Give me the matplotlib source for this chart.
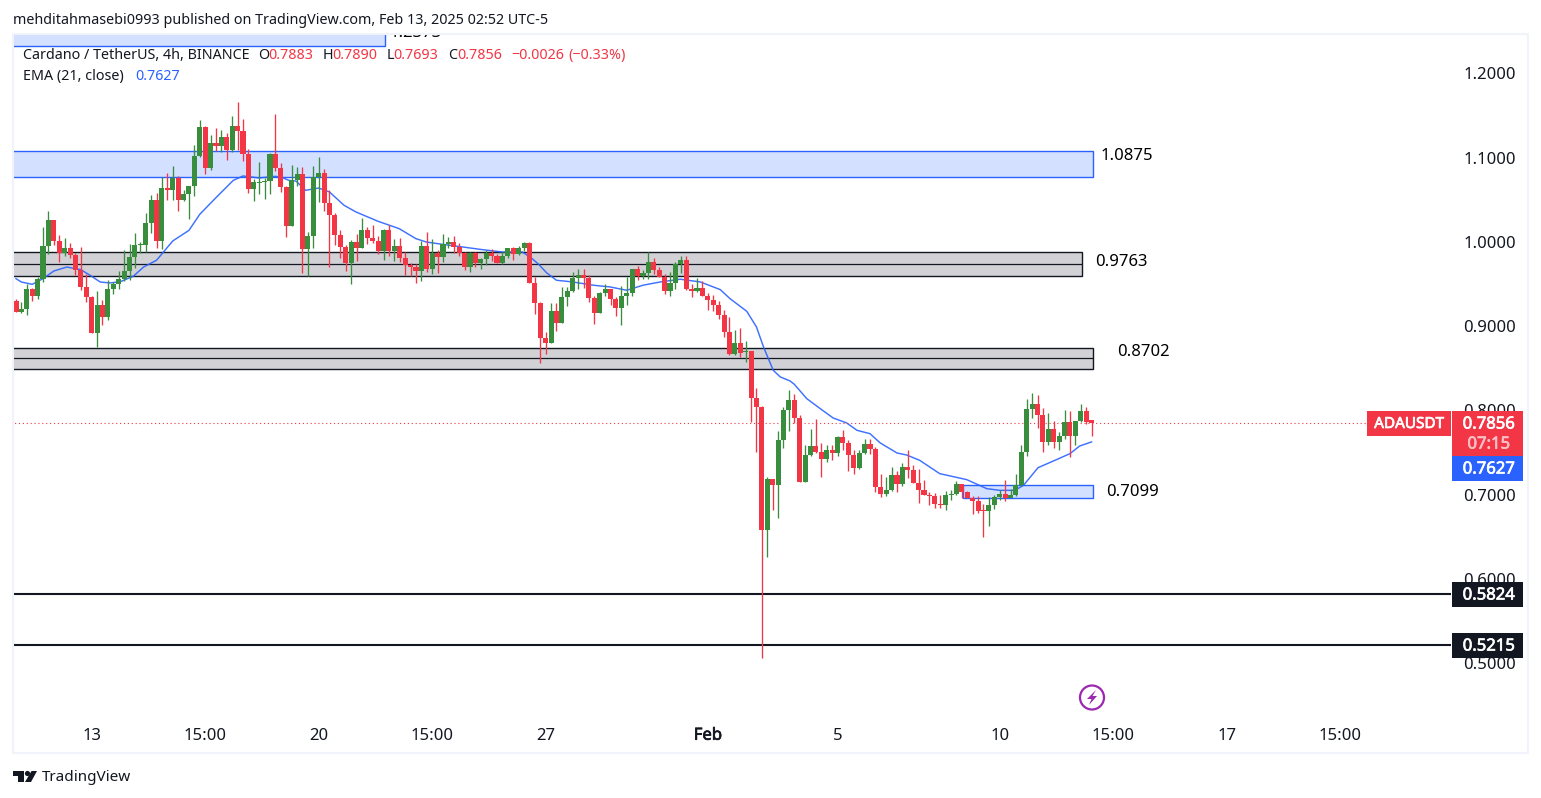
import matplotlib
matplotlib.use('Agg')
import matplotlib.pyplot as plt
import matplotlib.patheffects as pe
from matplotlib.patches import Rectangle, Circle, Polygon

plt.rcParams['font.family'] = ['Noto Sans', 'DejaVu Sans']

# Colors
up_color = '#388e3c'
down_color = '#f23645'
ema_color = '#2962ff'
blue_fill = '#d4e0ff'
gray_fill = '#d1d1d6'
dark_color = '#131722'
border_color = '#f0f3fa'
text_color = '#131722'

opens = [
    .9295, .9169, .9200, .9437, .9358, .9556, .9948, 1.0256, 1.0011, .9868,
    .9924, .9845, .9663, .9461, .9347, .8916, .9248, .9105, .9437, .9497,
    .9556, .9651, .9817, .9959, .9967, 1.0220, 1.0493, 1.0007, 1.0636, 1.0612,
    1.0754, 1.0493, 1.0564, 1.0659, 1.1015, 1.1359, 1.0873, 1.1169, 1.1134, 1.1240,
    1.1086, 1.1371, 1.1312, 1.1043, 1.0624, 1.0699, 1.0707, 1.0719, 1.1039, 1.0873,
    1.0647, 1.0185, 1.0730, 1.0802, .9912, 1.0066, 1.0774, 1.0813, 1.0458, 1.0315,
    1.0078, .9936, .9746, .9995, .9924, 1.0137, 1.0042, 1.0007, .9888, 1.0137,
    .9888, .9948, .9805, .9722, .9698, .9651, .9948, .9675, .9864, .9817,
    .9971, .9995, .9936, .9864, .9698, .9864, .9746, .9793, .9864, .9829,
    .9746, .9829, .9924, .9853, .9924, .9983, .9509, .9272, .8857, .8798,
    .9177, .9035, .9343, .9414, .9569, .9604, .9569, .9331, .9153, .9391,
    .9438, .9320, .9213, .9355, .9391, .9675, .9592, .9628, .9758, .9664,
    .9580, .9414, .9509, .9735, .9782, .9438, .9414, .9450, .9355, .9308,
    .9248, .9130, .8928, .8667, .8798, .8691, .8703, .8144, .8038, .6579,
    .7184, .7112, .7646, .8002, .8121, .7907, .7148, .7468, .7575, .7504,
    .7421, .7528, .7492, .7682, .7611, .7468, .7314, .7492, .7599, .7540,
    .7089, .7006, .7053, .7231, .7124, .7326, .7290, .7136, .7053, .6994,
    .6986, .6887, .6875, .6994, .7006, .7124, .7029, .6958, .6923, .6816,
    .6804, .6875, .6970, .7006, .6958, .6994, .7112, .7504, .8014, .8073,
    .7943, .7623, .7777, .7623, .7694, .7860, .7694, .7872, .7990, .7883,
]
closes = [
    .9169, .9200, .9437, .9358, .9556, .9948, 1.0256, 1.0011, .9868, .9924,
    .9845, .9663, .9461, .9347, .8916, .9248, .9105, .9437, .9497, .9556,
    .9651, .9817, .9959, .9967, 1.0220, 1.0493, 1.0007, 1.0636, 1.0612, 1.0754,
    1.0493, 1.0564, 1.0659, 1.1015, 1.1359, 1.0873, 1.1169, 1.1134, 1.1240, 1.1086,
    1.1371, 1.1312, 1.1043, 1.0624, 1.0707, 1.0707, 1.0719, 1.1039, 1.0873, 1.0647,
    1.0185, 1.0730, 1.0802, .9912, 1.0066, 1.0774, 1.0813, 1.0458, 1.0315, 1.0078,
    .9936, .9746, .9995, .9924, 1.0137, 1.0042, 1.0007, .9888, 1.0137, .9888,
    .9948, .9805, .9722, .9698, .9651, .9948, .9675, .9864, .9817, .9971,
    .9995, .9936, .9864, .9698, .9864, .9746, .9793, .9864, .9829, .9746,
    .9829, .9924, .9853, .9924, .9983, .9509, .9272, .8857, .8798, .9177,
    .9035, .9343, .9414, .9569, .9604, .9569, .9331, .9153, .9391, .9438,
    .9320, .9213, .9355, .9391, .9675, .9592, .9628, .9758, .9664, .9580,
    .9414, .9509, .9735, .9782, .9438, .9414, .9450, .9355, .9308, .9248,
    .9130, .8928, .8667, .8798, .8679, .8703, .8144, .8038, .6579, .7184,
    .7112, .7646, .8002, .8121, .7907, .7148, .7468, .7575, .7504, .7421,
    .7528, .7492, .7682, .7611, .7468, .7314, .7492, .7599, .7540, .7089,
    .7006, .7053, .7231, .7124, .7326, .7290, .7136, .7053, .6994, .6986,
    .6887, .6875, .6994, .7006, .7124, .7029, .6958, .6923, .6804, .6804,
    .6875, .6970, .7006, .6958, .6994, .7112, .7504, .8014, .8073, .7943,
    .7623, .7777, .7623, .7694, .7860, .7694, .7872, .7990, .7860, .7856,
]
highs = [
    .9319, .9283, .9497, .9449, .9584, 1.0173, 1.0363, 1.0264, 1.0078, 1.0042,
    .9983, .9864, .9936, .9615, .9358, .9414, .9307, .9544, .9524, .9651,
    .9900, .9971, 1.0102, .9999, 1.0339, 1.0552, 1.0576, 1.0770, 1.0813, 1.0896,
    1.0778, 1.0612, 1.0659, 1.1146, 1.1442, 1.1371, 1.1264, 1.1347, 1.1324, 1.1288,
    1.1490, 1.1656, 1.1454, 1.1098, 1.0742, 1.0944, 1.0754, 1.1051, 1.1513, 1.0932,
    1.0659, 1.0908, 1.0885, 1.0885, 1.0114, 1.0896, 1.1003, 1.0861, 1.0612, 1.0339,
    1.0137, .9959, 1.0019, 1.0090, 1.0280, 1.0173, 1.0197, 1.0066, 1.0149, 1.0197,
    1.0031, 1.0042, .9876, .9746, .9734, 1.0007, 1.0114, 1.0031, .9900, 1.0090,
    1.0054, 1.0066, .9983, .9876, .9876, .9876, .9805, .9900, .9912, .9853,
    .9876, .9924, .9936, .9948, .9995, .9995, .9580, .9284, .8928, .9272,
    .9272, .9462, .9462, .9640, .9675, .9675, .9604, .9355, .9403, .9497,
    .9438, .9343, .9474, .9588, .9675, .9711, .9664, .9877, .9806, .9699,
    .9616, .9640, .9758, .9830, .9830, .9497, .9569, .9533, .9391, .9367,
    .9296, .9189, .9106, .8952, .8976, .8821, .8703, .8264, .8050, .7207,
    .7184, .7753, .8038, .8239, .8192, .7943, .7587, .7777, .7895, .7611,
    .7587, .7587, .7694, .7765, .7646, .7528, .7528, .7658, .7658, .7563,
    .7243, .7207, .7326, .7279, .7373, .7528, .7350, .7302, .7172, .7029,
    .7018, .6994, .7041, .7053, .7160, .7124, .7041, .6982, .6982, .6887,
    .6970, .6994, .7053, .7172, .7065, .7243, .7587, .8133, .8204, .8180,
    .8026, .7967, .7872, .7741, .8002, .7990, .7872, .8073, .8038, .7890,
]
lows = [
    .9169, .9157, .9133, .9299, .9323, .9524, .9861, .9959, .9762, .9833,
    .9809, .9604, .9430, .9287, .8916, .8753, .9010, .9070, .9378, .9437,
    .9536, .9544, .9687, .9868, .9876, 1.0106, .9924, .9912, 1.0493, 1.0493,
    1.0363, 1.0481, 1.0268, 1.0541, 1.1003, 1.0802, 1.0849, 1.1074, 1.1067, 1.0968,
    1.1063, 1.1086, 1.0956, 1.0576, 1.0481, 1.0564, 1.0505, 1.0564, 1.0837, 1.0588,
    1.0054, 1.0185, 1.0659, .9627, .9592, .9924, 1.0469, 1.0363, .9698, .9959,
    .9805, .9651, .9497, .9770, .9924, .9971, .9983, .9853, .9781, .9829,
    .9770, .9758, .9604, .9592, .9509, .9532, .9639, .9615, .9627, .9758,
    .9924, .9864, .9829, .9663, .9639, .9698, .9675, .9722, .9770, .9746,
    .9734, .9805, .9781, .9841, .9888, .9509, .9142, .8560, .8667, .8798,
    .8940, .9035, .9236, .9403, .9438, .9450, .9284, .9023, .9153, .9355,
    .9248, .9118, .9011, .9248, .9355, .9545, .9557, .9557, .9616, .9580,
    .9379, .9355, .9438, .9628, .9426, .9343, .9403, .9355, .9189, .9177,
    .9082, .8869, .8655, .8655, .8632, .8572, .7861, .7504, .5060, .6258,
    .6816, .6721, .7551, .7753, .7848, .7148, .7148, .7456, .7492, .7207,
    .7385, .7409, .7456, .7528, .7279, .7243, .7302, .7480, .7480, .7029,
    .6970, .6982, .7041, .7029, .7101, .7196, .7136, .6899, .6994, .6875,
    .6840, .6840, .6816, .6935, .6994, .6966, .6958, .6768, .6780, .6496,
    .6626, .6828, .6935, .6923, .6970, .6982, .7101, .7456, .7907, .7789,
    .7504, .7587, .7551, .7528, .7658, .7445, .7587, .7860, .7836, .7693,
]

# EMA (21) at these candle numbers
ema_idx = [0, 1, 3, 5, 7, 9.4, 12, 13.7, 15.6, 17.4, 19.3, 21.7, 23.6, 26, 29, 32, 34, 37, 40.2, 42,
           45, 48, 49.3, 50.5, 51.8, 53.6, 56, 58, 60.7, 62.9, 67, 70.9, 74, 75.9, 78.9, 82.6, 86.3,
           90, 93.7, 95.5, 96.7, 98.2, 100, 103, 106.8, 109.9, 113, 116, 119.2, 122.9, 126.6, 130.3,
           132.1, 135.2, 137, 138.3, 140.1, 141.4, 143.2, 144, 146.3, 148.8, 151.2, 153.7, 155.6, 158,
           159.9, 163, 164.8, 167.2, 170.9, 175.9, 179.6, 182, 184.8, 186.4, 189.1, 192.5, 195, 196.8, 199]
ema_val = [.9564, .9524, .9497, .9564, .9655, .9702, .9671, .9604, .9524, .9513, .9528, .9592, .9702, .9782,
           1.0011, 1.0137, 1.0327, 1.0525, 1.0730, 1.0782, 1.0758, 1.0778, 1.0762, 1.0730, 1.0722, 1.0612,
           1.0639, 1.0592, 1.0434, 1.0355, 1.0244, 1.0157, 1.0038, .9999, .9971, .9940, .9908, .9880, .9880,
           .9801, .9734, .9632, .9545, .9525, .9486, .9466, .9426, .9486, .9525, .9557, .9525, .9434, .9327,
           .9177, .8991, .8754, .8477, .8398, .8351, .8311, .8141, .8022, .7911, .7852, .7765, .7725, .7615,
           .7496, .7472, .7409, .7251, .7180, .7073, .7053, .7053, .7112, .7322, .7417, .7488, .7579, .7627]

# zones: left candle, right candle, low price, high price
zone_left = [-5, -5, -5, -5, 175.3]
zone_right = [68.3, 199.3, 197.2, 199.3, 199.3]
zone_low = [1.2324, 1.0770, .9592, .8489, .6966]
zone_high = [1.3000, 1.1078, .9877, .8738, .7120]
zone_fill = [blue_fill, blue_fill, gray_fill, gray_fill, blue_fill]
zone_edge = [ema_color, ema_color, dark_color, dark_color, ema_color]
gray_mid = [.9734, .8619]
gray_mid_right = [197.2, 199.3]

level_prices = [.5824, .5215]
last_price = .7856

price_ticks = [.5, .6, .7, .8, .9, 1.0, 1.1, 1.2]
time_ticks = [14, 35, 56, 77, 98, 128, 152, 182, 203, 224, 245]
time_labels = ['13', '15:00', '20', '15:00', '27', 'Feb', '5', '10', '15:00', '17', '15:00']

W, H = 1541, 798
fig = plt.figure(figsize=(W / 100, H / 100), dpi=100, facecolor='white')

# main pane, from x 14 to 1451 and y 34 to 718 in pixels
ax = fig.add_axes([14 / W, 1 - 718 / H, (1451 - 14) / W, (718 - 34) / H])
ax.set_xlim(-0.37, 265.5)
ax.set_ylim(0.43523, 1.24662)
for s in ax.spines.values():
    s.set_visible(False)
ax.yaxis.tick_right()
ax.set_yticks(price_ticks)
ax.set_yticklabels(['%.4f' % p for p in price_ticks], fontsize=12, color=text_color)
ax.set_xticks(time_ticks)
ax.set_xticklabels(time_labels, fontsize=12, color=text_color)
ax.get_xticklabels()[5].set_path_effects([pe.withStroke(linewidth=0.5, foreground=text_color)])
ax.tick_params(axis='y', length=0, pad=9)
ax.tick_params(axis='x', length=0, pad=7)

for l, r, lo, hi, fc, ec in zip(zone_left, zone_right, zone_low, zone_high, zone_fill, zone_edge):
    ax.add_patch(Rectangle((l, lo), r - l, hi - lo, facecolor=fc, edgecolor=ec, lw=1.0, zorder=1))
ax.hlines(gray_mid, -5, gray_mid_right, color=dark_color, lw=0.9, zorder=1.5)

ax.plot(ema_idx, ema_val, color=ema_color, lw=1.05, alpha=0.9, zorder=2)
ax.hlines(level_prices, -5, 265.5, color=dark_color, lw=1.5, zorder=2)
ax.hlines(last_price, -5, 251.9, color=down_color, lw=0.8, linestyles=(0, (1, 2.5)), zorder=2)

# candles
for i in range(len(closes)):
    col = up_color if closes[i] >= opens[i] else down_color
    ax.vlines(i, lows[i], highs[i], color=col, lw=0.95, zorder=3)
    body = max(abs(closes[i] - opens[i]), 0.0012)
    ax.bar(i, body, 0.94, bottom=min(opens[i], closes[i]), color=col, lw=0, zorder=4)

# label of the top zone, cut by the pane edge
ax.text(69.2, 1.2478, '1.2373', fontsize=12, color='black', va='center', clip_on=True, zorder=5)

# overlay in pixel coordinates for the frame, tags and headers
ov = fig.add_axes([0, 0, 1, 1])
ov.set_xlim(0, W)
ov.set_ylim(H, 0)
ov.axis('off')
ov.patch.set_alpha(0)

ov.add_patch(Rectangle((13, 34), 1515, 719, fill=False, edgecolor=border_color, lw=1.5))


def label(x, y, s, color=text_color, size=11, bold=False, **kw):
    t = ov.text(x, y + 1.5, s, color=color, fontsize=size, va='center', **kw)
    if bold:
        t.set_path_effects([pe.withStroke(linewidth=0.5, foreground=color)])


label(13, 19, 'mehditahmasebi0993 published on TradingView.com, Feb 13, 2025 02:52 UTC-5', size=10.3)

label(23, 54, 'Cardano / TetherUS, 4h, BINANCE', size=10.3)
for x, s in zip([258, 323, 387, 448], 'OHLC'):
    label(x, 54, s, size=10.3)
for x, s in zip([268, 332, 393, 457, 511, 568],
                ['0.7883', '0.7890', '0.7693', '0.7856', '\u22120.0026', '(\u22120.33%)']):
    label(x, 54, s, color=down_color, size=10.3)
label(23, 75, 'EMA (21, close)', size=10.3)
label(135, 75, '0.7627', color=ema_color, size=10.3)

for x, y, s in [(1101, 154, '1.0875'), (1095, 261, '0.9763'), (1117, 351, '0.8702'), (1106, 490, '0.7099')]:
    label(x, y, s, color='black', size=12)

# price tags on the axis
ov.add_patch(Rectangle((1367, 411), 84, 25, facecolor=down_color, lw=0))
ov.add_patch(Rectangle((1452, 411), 71, 45, facecolor=down_color, lw=0))
ov.add_patch(Rectangle((1452, 456), 71, 25, facecolor=ema_color, lw=0))
ov.add_patch(Rectangle((1452, 582), 71, 25, facecolor=dark_color, lw=0))
ov.add_patch(Rectangle((1452, 633), 71, 25, facecolor=dark_color, lw=0))
label(1409, 423, 'ADAUSDT', color='white', size=11, ha='center', bold=True)
label(1489, 423, '0.7856', color='white', size=12, ha='center', bold=True)
label(1489, 443, '07:15', color='#fbc0c6', size=12, ha='center', bold=True)
label(1489, 468, '0.7627', color='white', size=12, ha='center', bold=True)
label(1489, 594, '0.5824', color='white', size=12, ha='center', bold=True)
label(1489, 645, '0.5215', color='white', size=12, ha='center', bold=True)

# lightning mark
ov.add_patch(Circle((1092, 697.5), 12, fill=False, edgecolor='#9c27b0', lw=1.6))
ov.add_patch(Polygon([(1096, 690), (1087, 699), (1091.5, 699), (1089, 705), (1097, 696), (1092.5, 696)],
                     facecolor='#9c27b0', lw=0))

# TradingView logo
ov.add_patch(Polygon([(13, 771), (24, 771), (24, 782), (18, 782), (18, 776), (13, 776)], facecolor=dark_color, lw=0))
ov.add_patch(Circle((27.5, 773.5), 2.6, facecolor=dark_color, lw=0))
ov.add_patch(Polygon([(31.5, 771), (37, 771), (31, 782), (25, 782)], facecolor=dark_color, lw=0))
label(42, 776, 'TradingView', size=11)

fig.savefig('out.png', dpi=100, facecolor='white')
